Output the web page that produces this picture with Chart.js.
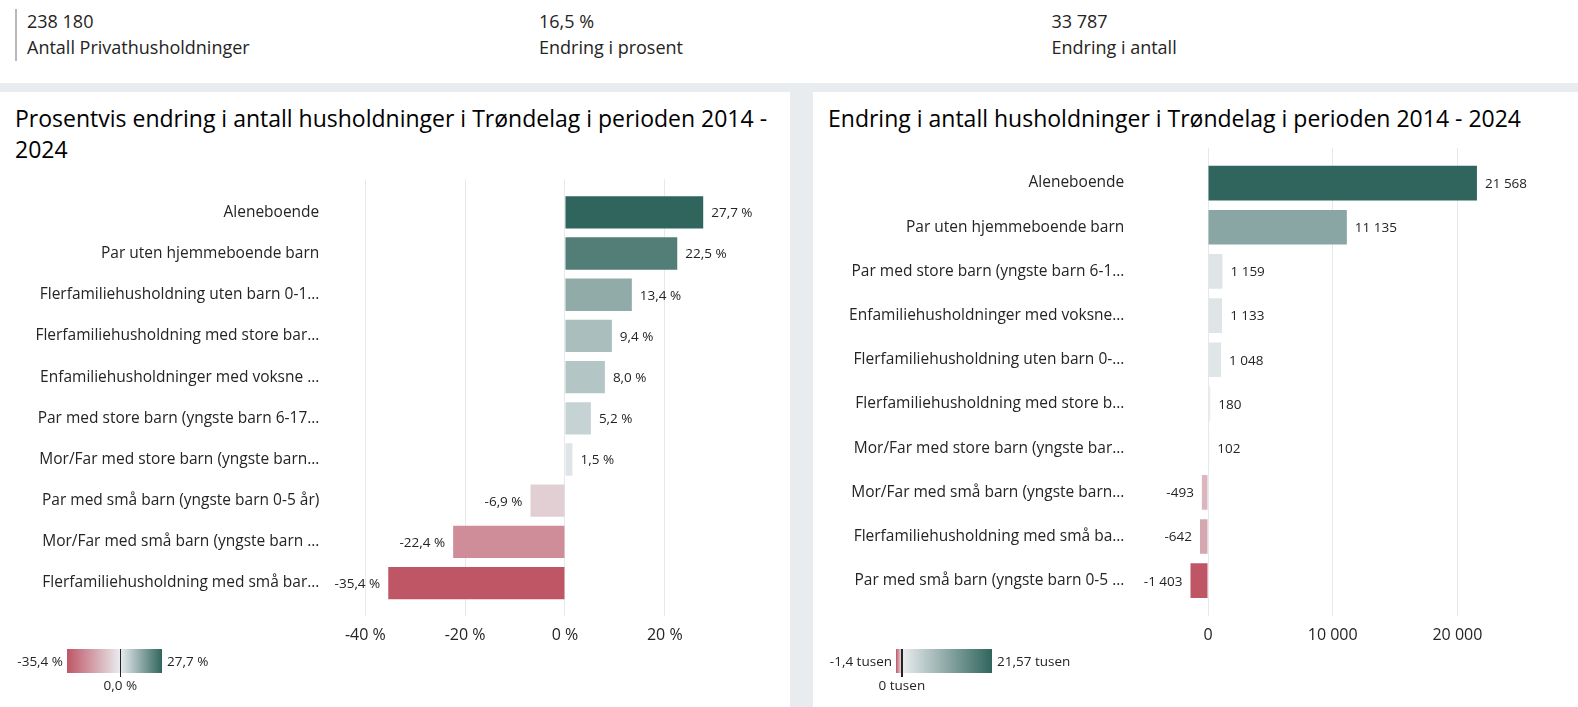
<!DOCTYPE html>
<html lang="no">
<head>
<meta charset="utf-8">
<script src="https://cdn.jsdelivr.net/npm/chart.js@4.4.1/dist/chart.umd.min.js"></script>
<style>
html,body{margin:0;padding:0;}
body{width:1578px;height:707px;background:#E9ECEF;position:relative;overflow:hidden;font-family:"Open Sans",sans-serif;color:#252423;}
#top{position:absolute;left:0;top:0;width:1578px;height:83px;background:#fff;}
.kpi{position:absolute;top:9.3px;font-size:18px;line-height:25.7px;white-space:nowrap;}
#kpi1{left:15px;border-left:2px solid #B8B8B8;padding-left:10px;}
#kpi2{left:539px;}
#kpi3{left:1051.5px;}
.panel{position:absolute;top:92px;height:615px;background:#fff;}
#pl{left:0;width:790px;}
#pr{left:813px;width:765px;}
.title{position:absolute;left:15px;top:10.5px;font-size:23px;line-height:31.7px;color:#000;white-space:nowrap;}
canvas{position:absolute;}
#cl{left:0;top:161px;}
#cr{left:813px;top:131px;}
.lg{position:absolute;font-size:13.5px;line-height:18px;white-space:nowrap;color:#252423;}
.lgbox{position:absolute;top:649px;height:24px;}
.lgmark{position:absolute;top:649px;width:1.5px;height:28px;background:#252423;}
</style>
</head>
<body>
<div id="top">
  <div class="kpi" id="kpi1"><div id="k1v"></div><div>Antall Privathusholdninger</div></div>
  <div class="kpi" id="kpi2"><div id="k2v"></div><div>Endring i prosent</div></div>
  <div class="kpi" id="kpi3"><div id="k3v"></div><div>Endring i antall</div></div>
</div>
<div class="panel" id="pl"><div class="title">Prosentvis endring i antall husholdninger i Trøndelag i perioden 2014 -<br>2024</div></div>
<div class="panel" id="pr"><div class="title">Endring i antall husholdninger i Trøndelag i perioden 2014 - 2024</div></div>
<canvas id="cl" width="790" height="500"></canvas>
<canvas id="cr" width="765" height="530"></canvas>
<div id="legends"></div>
<script>
// ---- Data ----
const kpiValues = [238180, 16.5, 33787];

const pctCategories = [
  "Aleneboende",
  "Par uten hjemmeboende barn",
  "Flerfamiliehusholdning uten barn 0-1…",
  "Flerfamiliehusholdning med store bar…",
  "Enfamiliehusholdninger med voksne …",
  "Par med store barn (yngste barn 6-17…",
  "Mor/Far med store barn (yngste barn…",
  "Par med små barn (yngste barn 0-5 år)",
  "Mor/Far med små barn (yngste barn …",
  "Flerfamiliehusholdning med små bar…"
];
const pctValues = [27.7, 22.5, 13.4, 9.4, 8.0, 5.2, 1.5, -6.9, -22.4, -35.4];
const pctTicks = [-40, -20, 0, 20];

const cntCategories = [
  "Aleneboende",
  "Par uten hjemmeboende barn",
  "Par med store barn (yngste barn 6-1…",
  "Enfamiliehusholdninger med voksne…",
  "Flerfamiliehusholdning uten barn 0-…",
  "Flerfamiliehusholdning med store b…",
  "Mor/Far med store barn (yngste bar…",
  "Mor/Far med små barn (yngste barn…",
  "Flerfamiliehusholdning med små ba…",
  "Par med små barn (yngste barn 0-5 …"
];
const cntValues = [21568, 11135, 1159, 1133, 1048, 180, 102, -493, -642, -1403];
const cntTicks = [0, 10000, 20000];

// ---- Styles ----
const NEG = [190, 86, 102], MID = [233, 236, 239], POS = [48, 101, 93];
const TXT = '#252423';
const FONT = "'Open Sans', sans-serif";
Chart.defaults.font.family = FONT;
Chart.defaults.color = TXT;

function fmtInt(v) {
  const s = String(Math.round(Math.abs(v))).replace(/\B(?=(\d{3})+(?!\d))/g, ' ');
  return (v < 0 ? '-' : '') + s;
}
function fmtPct(v, d) { return v.toFixed(d).replace('.', ',') + ' %'; }
function fmtTusen(v, d) { return (v / 1000).toFixed(d).replace('.', ',') + ' tusen'; }

function mix(a, b, t) { return 'rgb(' + a.map((x, i) => Math.round(x + (b[i] - x) * t)).join(',') + ')'; }
function colorFor(v, min, max) {
  return v >= 0 ? mix(MID, POS, v / max) : mix(MID, NEG, v / min);
}

document.getElementById('k1v').textContent = fmtInt(kpiValues[0]);
document.getElementById('k2v').textContent = fmtPct(kpiValues[1], 1);
document.getElementById('k3v').textContent = fmtInt(kpiValues[2]);

function labelPlugin(format) {
  return {
    id: 'valueLabels',
    afterDatasetsDraw(chart) {
      const ctx = chart.ctx;
      const meta = chart.getDatasetMeta(0);
      const data = chart.data.datasets[0].data;
      ctx.save();
      ctx.font = '13.5px ' + FONT;
      ctx.fillStyle = TXT;
      ctx.textBaseline = 'middle';
      meta.data.forEach((bar, i) => {
        const v = data[i].x;
        const neg = v < 0;
        ctx.textAlign = neg ? 'right' : 'left';
        ctx.fillText(format(v), bar.x + (neg ? -8 : 8), bar.y + 1);
      });
      ctx.restore();
    }
  };
}

function makeChart(id, cats, vals, ticks, cfg) {
  const min = Math.min(...vals), max = Math.max(...vals);
  return new Chart(document.getElementById(id), {
    type: 'bar',
    data: {
      datasets: [{
        data: vals.map((v, i) => ({ x: v, y: i })),
        backgroundColor: vals.map(v => colorFor(v, min, max)),
        borderWidth: 0,
        barPercentage: 0.785,
        categoryPercentage: 1
      }]
    },
    options: {
      indexAxis: 'y',
      responsive: false,
      animation: false,
      layout: { padding: cfg.padding },
      plugins: { legend: { display: false }, tooltip: { enabled: false } },
      scales: {
        x: {
          type: 'linear',
          min: cfg.xMin, max: cfg.xMax,
          offset: false,
          afterBuildTicks: s => { s.ticks = ticks.map(v => ({ value: v })); },
          afterFit: s => { s.height = 30; },
          grid: { color: '#E6E9EC', lineWidth: 1, drawTicks: false, offset: false },
          border: { display: false },
          ticks: { padding: 10, font: { size: 16 }, color: TXT, callback: cfg.tickFmt, maxRotation: 0, autoSkip: false }
        },
        y: {
          type: 'linear',
          reverse: true,
          offset: false,
          min: -0.8, max: cats.length - 0.2,
          afterBuildTicks: s => { s.ticks = cats.map((c, i) => ({ value: i })); },
          afterFit: s => { s.width = cfg.yWidth; },
          grid: { display: true, offset: false, drawOnChartArea: false, drawTicks: true, tickLength: cfg.tickLen, color: 'rgba(0,0,0,0)' },
          border: { display: false },
          ticks: { padding: 6, font: { size: 15.5 }, color: TXT, autoSkip: false, callback: v => cats[v] }
        }
      }
    },
    plugins: [labelPlugin(cfg.labelFmt)]
  });
}

makeChart('cl', pctCategories, pctValues, pctTicks, {
  xMin: -40, xMax: 40,
  padding: { top: 18.4, bottom: 15, left: 0, right: 25.4 },
  yWidth: 365.3, tickLen: 40,
  tickFmt: v => fmtPct(v, 0),
  labelFmt: v => fmtPct(v, 1)
});
makeChart('cr', cntCategories, cntValues, cntTicks, {
  xMin: -1500, xMax: 26000,
  padding: { top: 16.7, bottom: 15, left: 0, right: 45.8 },
  yWidth: 376.3, tickLen: 59,
  tickFmt: v => fmtInt(v),
  labelFmt: v => fmtInt(v)
});

// ---- Gradient legends ----
function legend(vals, boxLeft, boxWidth, minTxt, maxTxt, zeroTxt) {
  const min = Math.min(...vals), max = Math.max(...vals);
  const z = (0 - min) / (max - min);
  const zx = boxLeft + z * boxWidth;
  const host = document.getElementById('legends');
  const box = document.createElement('div');
  box.className = 'lgbox';
  box.style.left = boxLeft + 'px';
  box.style.width = boxWidth + 'px';
  box.style.background = 'linear-gradient(to right, ' + mix(NEG, NEG, 0) + ' 0%, ' + mix(MID, MID, 0) + ' ' + (z * 100) + '%, ' + mix(POS, POS, 0) + ' 100%)';
  host.appendChild(box);
  const mk = document.createElement('div');
  mk.className = 'lgmark';
  mk.style.left = (zx - 0.75) + 'px';
  host.appendChild(mk);
  const t1 = document.createElement('div');
  t1.className = 'lg'; t1.textContent = minTxt;
  t1.style.right = (1578 - boxLeft + 4) + 'px'; t1.style.top = '652px';
  host.appendChild(t1);
  const t2 = document.createElement('div');
  t2.className = 'lg'; t2.textContent = maxTxt;
  t2.style.left = (boxLeft + boxWidth + 5) + 'px'; t2.style.top = '652px';
  host.appendChild(t2);
  const t3 = document.createElement('div');
  t3.className = 'lg'; t3.textContent = zeroTxt;
  t3.style.left = zx + 'px'; t3.style.top = '676px'; t3.style.transform = 'translateX(-50%)';
  host.appendChild(t3);
}
legend(pctValues, 67, 95, fmtPct(Math.min(...pctValues), 1), fmtPct(Math.max(...pctValues), 1), fmtPct(0, 1));
legend(cntValues, 896, 96, fmtTusen(Math.min(...cntValues), 1), fmtTusen(Math.max(...cntValues), 2), '0 tusen');
</script>
</body>
</html>
